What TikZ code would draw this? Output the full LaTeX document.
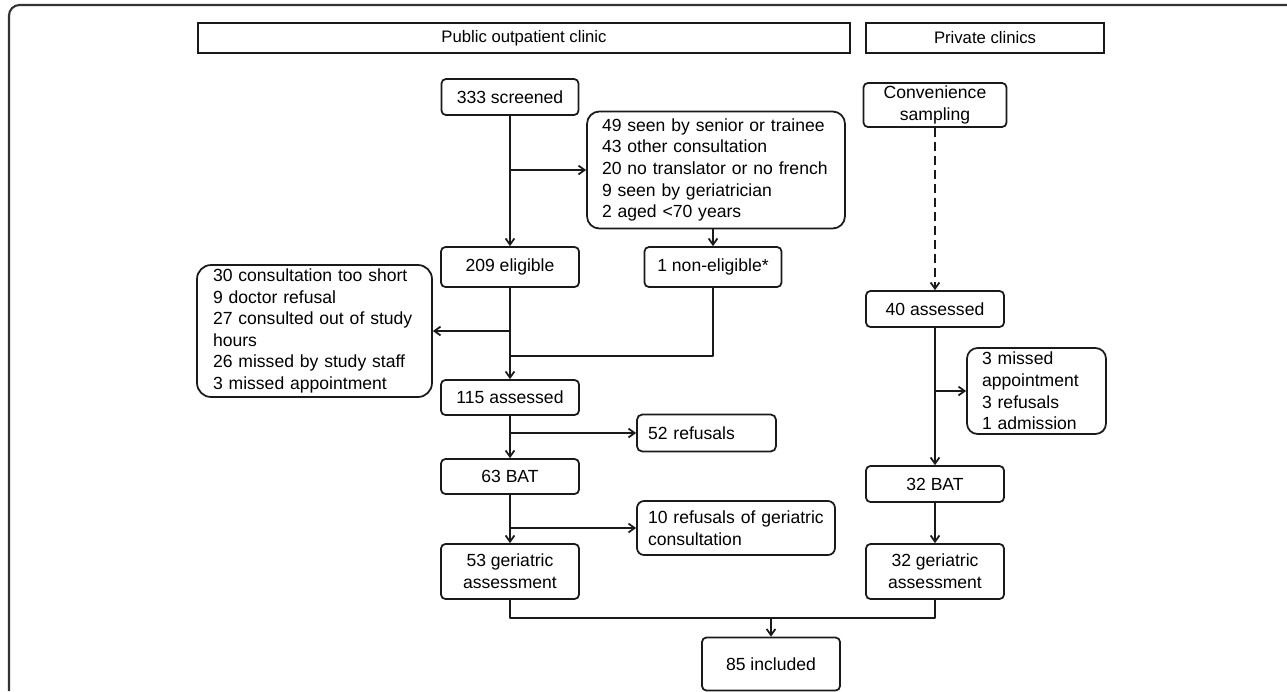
\documentclass[tikz,border=0pt]{standalone}
\usepackage{fontspec}
\setmainfont{Liberation Sans}
\usetikzlibrary{arrows.meta}
\definecolor{ink}{HTML}{1A1A1A}
\definecolor{frame}{HTML}{333333}
\tikzset{
  base/.style={draw=ink, line width=1pt, line join=round},
  box/.style={base, rounded corners=2.5pt, align=center, inner sep=0pt, font=\fontsize{10}{12.3}\selectfont},
  list/.style={box, rounded corners=7pt, align=left},
  head/.style={draw=ink, line width=0.8pt, inner sep=0pt, font=\fontsize{9.5}{11}\selectfont},
  flow/.style={base, -{Straight Barb[length=3.5pt,width=5pt]}},
  joint/.style={base},
}
\begin{document}
\begin{tikzpicture}[x=0.02cm, y=-0.02cm]
  \useasboundingbox (0,0) rectangle (1287,691);
  % open frame round the figure
  \draw[frame, line width=1.2pt, rounded corners=6pt] (9,691) -- (9,5) -- (1287,5);

  % column headers
  \node[head, minimum width=13.04cm, minimum height=0.6cm] (pub) at (524,38) {Public outpatient clinic};
  \node[head, minimum width=4.76cm, minimum height=0.6cm] (priv) at (985,38) {Private clinics};

  % public outpatient clinic
  \node[box, minimum width=2.74cm, minimum height=0.72cm] (scr) at (510,97) {333 screened};
  \node[list, text width=4.56cm, inner xsep=0.3cm, minimum height=2.34cm] (excl1) at (716,170)
    {49 seen by senior or trainee\\43 other consultation\\20 no translator or no french\\9 seen by geriatrician\\2 aged <70 years};
  \node[box, minimum width=2.76cm, minimum height=0.8cm] (elig) at (510,267) {209 eligible};
  \node[box, minimum width=2.74cm, minimum height=0.8cm] (nonel) at (713,267) {1 non-eligible*};
  \node[list, rounded corners=8pt, text width=4.06cm, inner xsep=0.32cm, minimum height=2.64cm] (excl2) at (314.5,331)
    {30 consultation too short\\9 doctor refusal\\27 consulted out of study\\hours\\26 missed by study staff\\3 missed appointment};
  \node[box, minimum width=2.76cm, minimum height=0.7cm] (ass1) at (510,397.5) {115 assessed};
  \node[list, rounded corners=3pt, text width=2.34cm, inner xsep=0.22cm, minimum height=0.74cm] (ref1) at (706.5,433) {52 refusals};
  \node[box, minimum width=2.76cm, minimum height=0.7cm] (bat1) at (510,476.5) {63 BAT};
  \node[list, rounded corners=4pt, text width=3.52cm, inner xsep=0.22cm, minimum height=1.08cm] (ref2) at (736,528)
    {10 refusals of geriatric\\consultation};
  \node[box, minimum width=2.76cm, minimum height=1.1cm] (ger1) at (510,571.5) {53 geriatric\\assessment};

  % private clinics
  \node[box, minimum width=2.86cm, minimum height=0.88cm] (conv) at (935,105) {Convenience\\sampling};
  \node[box, minimum width=2.76cm, minimum height=0.72cm] (ass2) at (935,309) {40 assessed};
  \node[list, rounded corners=6pt, text width=2.18cm, inner xsep=0.3cm, minimum height=1.72cm] (excl3) at (1036.5,391)
    {3 missed\\appointment\\3 refusals\\1 admission};
  \node[box, minimum width=2.76cm, minimum height=0.72cm] (bat2) at (935,484) {32 BAT};
  \node[box, minimum width=2.76cm, minimum height=1.1cm] (ger2) at (935,571.5) {32 geriatric\\assessment};

  \node[box, minimum width=2.76cm, minimum height=1.06cm] (incl) at (771,664) {85 included};

  \coordinate (m1) at (510,356);
  \coordinate (m2) at (771,618);

  % connectors
  \draw[flow] (scr) -- (elig);
  \draw[flow] (scr.south |- excl1.west) -- (excl1.west);
  \draw[flow] (nonel.north |- excl1.south) -- (nonel.north);
  \draw[flow] (elig) -- (ass1);
  \draw[flow] (elig.south |- excl2.east) -- (excl2.east);
  \draw[joint] (nonel.south) |- (m1);
  \draw[flow] (ass1) -- (bat1);
  \draw[flow] (ass1.south |- ref1.west) -- (ref1.west);
  \draw[flow] (bat1) -- (ger1);
  \draw[flow] (bat1.south |- ref2.west) -- (ref2.west);
  \draw[flow, dash pattern=on 5pt off 3pt] (conv) -- (ass2);
  \draw[flow] (ass2) -- (bat2);
  \draw[flow] (ass2.south |- excl3.west) -- (excl3.west);
  \draw[flow] (bat2) -- (ger2);
  \draw[joint] (ger1.south) |- (m2) -| (ger2.south);
  \draw[flow] (m2) -- (incl);
\end{tikzpicture}
\end{document}
